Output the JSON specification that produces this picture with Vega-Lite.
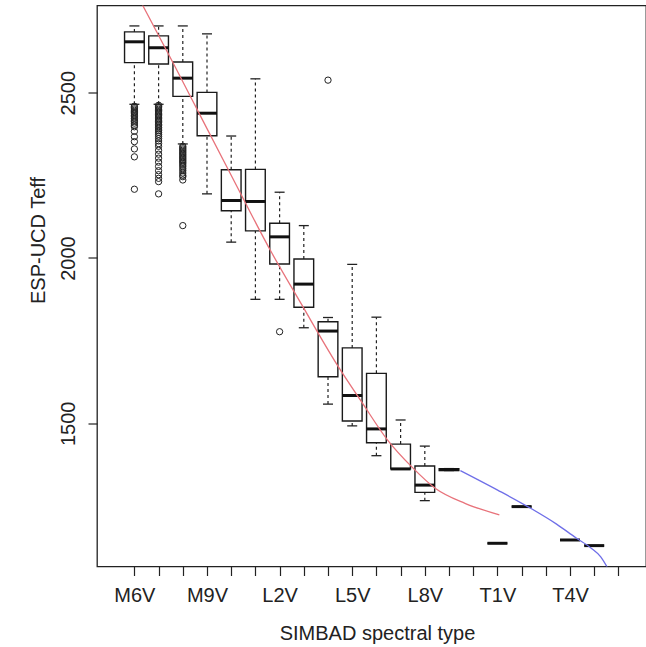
{
  "$schema": "https://vega.github.io/schema/vega-lite/v6.json",
  "width": 549,
  "height": 561,
  "autosize": {"type": "none"},
  "padding": {"left": 97, "top": 5.5, "right": 0, "bottom": 80.5},
  "background": "white",
  "config": {
    "view": {"stroke": "#222", "strokeWidth": 1.3},
    "font": "Liberation Sans",
    "axis": {
      "grid": false, "domain": false, "tickColor": "#222", "tickWidth": 1.2,
      "labelColor": "#222", "titleColor": "#222", "labelFontSize": 20, "titleFontSize": 20,
      "titleFontWeight": "normal", "labelFont": "Liberation Sans", "titleFont": "Liberation Sans",
      "tickSize": 9, "labelOverlap": false, "labelFlush": false
    },
    "axisX": {"labelPadding": 26, "labelBaseline": "alphabetic", "titleX": 280, "titleY": 72.5, "titleBaseline": "alphabetic", "titleAlign": "center", "titleAnchor": null},
    "axisY": {"labelAngle": -90, "labelAlign": "center", "labelBaseline": "alphabetic", "labelPadding": 13.5, "titleAngle": -90, "titleX": -53, "titleY": 234.5, "titleAlign": "center", "titleBaseline": "alphabetic", "format": "d"}
  },
  "datasets": {
    "boxes": [
      {"type": "M6V", "spt": 6, "lower": 2465, "q1": 2591, "median": 2654, "q3": 2684, "upper": 2702},
      {"type": "M7V", "spt": 7, "lower": 2465, "q1": 2587, "median": 2636, "q3": 2672, "upper": 2702},
      {"type": "M8V", "spt": 8, "lower": 2345, "q1": 2489, "median": 2544, "q3": 2593, "upper": 2702},
      {"type": "M9V", "spt": 9, "lower": 2194, "q1": 2370, "median": 2438, "q3": 2501, "upper": 2678},
      {"type": "L0V", "spt": 10, "lower": 2048, "q1": 2143, "median": 2174, "q3": 2267, "upper": 2369},
      {"type": "L1V", "spt": 11, "lower": 1875, "q1": 2082, "median": 2171, "q3": 2268, "upper": 2542},
      {"type": "L2V", "spt": 12, "lower": 1875, "q1": 1982, "median": 2064, "q3": 2105, "upper": 2199},
      {"type": "L3V", "spt": 13, "lower": 1789, "q1": 1851, "median": 1921, "q3": 1997, "upper": 2098},
      {"type": "L4V", "spt": 14, "lower": 1558, "q1": 1641, "median": 1779, "q3": 1807, "upper": 1820},
      {"type": "L5V", "spt": 15, "lower": 1492, "q1": 1507, "median": 1584, "q3": 1728, "upper": 1981},
      {"type": "L6V", "spt": 16, "lower": 1402, "q1": 1441, "median": 1483, "q3": 1651, "upper": 1821},
      {"type": "L7V", "spt": 17, "lower": 1362, "q1": 1362, "median": 1362, "q3": 1437, "upper": 1510},
      {"type": "L8V", "spt": 18, "lower": 1266, "q1": 1291, "median": 1313, "q3": 1371, "upper": 1431},
      {"type": "L9V", "spt": 19, "lower": 1357, "q1": 1357, "median": 1360, "q3": 1363, "upper": 1363},
      {"type": "T1V", "spt": 21, "lower": 1137, "q1": 1137, "median": 1137, "q3": 1137, "upper": 1137},
      {"type": "T2V", "spt": 22, "lower": 1248, "q1": 1248, "median": 1248, "q3": 1248, "upper": 1248},
      {"type": "T4V", "spt": 24, "lower": 1147, "q1": 1147, "median": 1147, "q3": 1147, "upper": 1147},
      {"type": "T5V", "spt": 25, "lower": 1130, "q1": 1130, "median": 1130, "q3": 1130, "upper": 1130}
    ],
    "outliers": [
      {"type": "M6V", "spt": 6, "teff": 2459}, {"type": "M6V", "spt": 6, "teff": 2455}, {"type": "M6V", "spt": 6, "teff": 2451},
      {"type": "M6V", "spt": 6, "teff": 2447}, {"type": "M6V", "spt": 6, "teff": 2443}, {"type": "M6V", "spt": 6, "teff": 2440},
      {"type": "M6V", "spt": 6, "teff": 2436}, {"type": "M6V", "spt": 6, "teff": 2431}, {"type": "M6V", "spt": 6, "teff": 2427},
      {"type": "M6V", "spt": 6, "teff": 2422}, {"type": "M6V", "spt": 6, "teff": 2417}, {"type": "M6V", "spt": 6, "teff": 2413},
      {"type": "M6V", "spt": 6, "teff": 2408}, {"type": "M6V", "spt": 6, "teff": 2402}, {"type": "M6V", "spt": 6, "teff": 2397},
      {"type": "M6V", "spt": 6, "teff": 2383}, {"type": "M6V", "spt": 6, "teff": 2367}, {"type": "M6V", "spt": 6, "teff": 2352},
      {"type": "M6V", "spt": 6, "teff": 2330}, {"type": "M6V", "spt": 6, "teff": 2306}, {"type": "M6V", "spt": 6, "teff": 2208},
      {"type": "M7V", "spt": 7, "teff": 2462}, {"type": "M7V", "spt": 7, "teff": 2458}, {"type": "M7V", "spt": 7, "teff": 2454},
      {"type": "M7V", "spt": 7, "teff": 2450}, {"type": "M7V", "spt": 7, "teff": 2446}, {"type": "M7V", "spt": 7, "teff": 2442},
      {"type": "M7V", "spt": 7, "teff": 2438}, {"type": "M7V", "spt": 7, "teff": 2434}, {"type": "M7V", "spt": 7, "teff": 2430},
      {"type": "M7V", "spt": 7, "teff": 2426}, {"type": "M7V", "spt": 7, "teff": 2421}, {"type": "M7V", "spt": 7, "teff": 2417},
      {"type": "M7V", "spt": 7, "teff": 2413}, {"type": "M7V", "spt": 7, "teff": 2409}, {"type": "M7V", "spt": 7, "teff": 2404},
      {"type": "M7V", "spt": 7, "teff": 2400}, {"type": "M7V", "spt": 7, "teff": 2395}, {"type": "M7V", "spt": 7, "teff": 2390},
      {"type": "M7V", "spt": 7, "teff": 2385}, {"type": "M7V", "spt": 7, "teff": 2380}, {"type": "M7V", "spt": 7, "teff": 2374},
      {"type": "M7V", "spt": 7, "teff": 2368}, {"type": "M7V", "spt": 7, "teff": 2361}, {"type": "M7V", "spt": 7, "teff": 2354},
      {"type": "M7V", "spt": 7, "teff": 2346}, {"type": "M7V", "spt": 7, "teff": 2338}, {"type": "M7V", "spt": 7, "teff": 2326},
      {"type": "M7V", "spt": 7, "teff": 2314}, {"type": "M7V", "spt": 7, "teff": 2302}, {"type": "M7V", "spt": 7, "teff": 2290},
      {"type": "M7V", "spt": 7, "teff": 2277}, {"type": "M7V", "spt": 7, "teff": 2264}, {"type": "M7V", "spt": 7, "teff": 2252},
      {"type": "M7V", "spt": 7, "teff": 2241}, {"type": "M7V", "spt": 7, "teff": 2231}, {"type": "M7V", "spt": 7, "teff": 2194},
      {"type": "M8V", "spt": 8, "teff": 2338}, {"type": "M8V", "spt": 8, "teff": 2334}, {"type": "M8V", "spt": 8, "teff": 2330},
      {"type": "M8V", "spt": 8, "teff": 2326}, {"type": "M8V", "spt": 8, "teff": 2322}, {"type": "M8V", "spt": 8, "teff": 2318},
      {"type": "M8V", "spt": 8, "teff": 2314}, {"type": "M8V", "spt": 8, "teff": 2310}, {"type": "M8V", "spt": 8, "teff": 2306},
      {"type": "M8V", "spt": 8, "teff": 2302}, {"type": "M8V", "spt": 8, "teff": 2298}, {"type": "M8V", "spt": 8, "teff": 2294},
      {"type": "M8V", "spt": 8, "teff": 2290}, {"type": "M8V", "spt": 8, "teff": 2286}, {"type": "M8V", "spt": 8, "teff": 2281},
      {"type": "M8V", "spt": 8, "teff": 2276}, {"type": "M8V", "spt": 8, "teff": 2270}, {"type": "M8V", "spt": 8, "teff": 2264},
      {"type": "M8V", "spt": 8, "teff": 2257}, {"type": "M8V", "spt": 8, "teff": 2250}, {"type": "M8V", "spt": 8, "teff": 2246},
      {"type": "M8V", "spt": 8, "teff": 2236}, {"type": "M8V", "spt": 8, "teff": 2098},
      {"type": "L2V", "spt": 12, "teff": 1777},
      {"type": "L4V", "spt": 14, "teff": 2538}
    ],
    "fits": [
      {"fit": "M-L", "spt": 6.337, "teff": 2765},
      {"fit": "M-L", "spt": 7.623, "teff": 2587},
      {"fit": "M-L", "spt": 8.84, "teff": 2414},
      {"fit": "M-L", "spt": 10.057, "teff": 2242},
      {"fit": "M-L", "spt": 11.68, "teff": 2015},
      {"fit": "M-L", "spt": 12.896, "teff": 1861},
      {"fit": "M-L", "spt": 14.385, "teff": 1676},
      {"fit": "M-L", "spt": 15.424, "teff": 1561},
      {"fit": "M-L", "spt": 16.454, "teff": 1450},
      {"fit": "M-L", "spt": 17.452, "teff": 1369},
      {"fit": "M-L", "spt": 18.442, "teff": 1303},
      {"fit": "M-L", "spt": 19.659, "teff": 1258},
      {"fit": "M-L", "spt": 21.08, "teff": 1223},
      {"fit": "L-T", "spt": 19.469, "teff": 1357},
      {"fit": "L-T", "spt": 21.01, "teff": 1298},
      {"fit": "L-T", "spt": 22.349, "teff": 1244},
      {"fit": "L-T", "spt": 23.444, "teff": 1195},
      {"fit": "L-T", "spt": 24.256, "teff": 1153},
      {"fit": "L-T", "spt": 24.864, "teff": 1123},
      {"fit": "L-T", "spt": 25.27, "teff": 1096},
      {"fit": "L-T", "spt": 25.55, "teff": 1063}
    ]
  },
  "encoding": {
    "x": {
      "field": "spt", "type": "quantitative",
      "scale": {"domain": [4.6613, 26.933], "nice": false, "zero": false},
      "axis": {
        "title": "SIMBAD spectral type",
        "values": [6, 7, 8, 9, 10, 11, 12, 13, 14, 15, 16, 17, 18, 19, 20, 21, 22, 23, 24, 25, 26],
        "labelExpr": "datum.value == 6 ? 'M6V' : datum.value == 9 ? 'M9V' : datum.value == 12 ? 'L2V' : datum.value == 15 ? 'L5V' : datum.value == 18 ? 'L8V' : datum.value == 21 ? 'T1V' : datum.value == 24 ? 'T4V' : ''"
      }
    }
  },
  "layer": [
    {
      "data": {"name": "boxes"},
      "mark": {"type": "rule", "strokeDash": [3, 3], "strokeWidth": 1.2, "color": "#222", "opacity": 1},
      "encoding": {
        "y": {"field": "lower", "type": "quantitative", "scale": {"domain": [1066.8, 2763.8], "nice": false, "zero": false}, "axis": {"title": "ESP-UCD Teff", "values": [1500, 2000, 2500], "format": "d"}},
        "y2": {"field": "q1"}
      }
    },
    {
      "data": {"name": "boxes"},
      "mark": {"type": "rule", "strokeDash": [3, 3], "strokeWidth": 1.2, "color": "#222", "opacity": 1},
      "encoding": {
        "y": {"field": "q3", "type": "quantitative", "axis": {"title": "ESP-UCD Teff", "values": [1500, 2000, 2500], "format": "d"}},
        "y2": {"field": "upper"}
      }
    },
    {
      "data": {"name": "boxes"},
      "mark": {"type": "tick", "orient": "horizontal", "size": 10, "thickness": 1.3, "color": "#222", "opacity": 1},
      "encoding": {"y": {"field": "upper", "type": "quantitative", "axis": {"title": "ESP-UCD Teff", "values": [1500, 2000, 2500], "format": "d"}}}
    },
    {
      "data": {"name": "boxes"},
      "mark": {"type": "tick", "orient": "horizontal", "size": 10, "thickness": 1.3, "color": "#222", "opacity": 1},
      "encoding": {"y": {"field": "lower", "type": "quantitative", "axis": {"title": "ESP-UCD Teff", "values": [1500, 2000, 2500], "format": "d"}}}
    },
    {
      "data": {"name": "boxes"},
      "mark": {"type": "bar", "width": 19.7, "fill": "white", "stroke": "#1a1a1a", "strokeWidth": 1.4, "opacity": 1},
      "encoding": {
        "y": {"field": "q1", "type": "quantitative", "axis": {"title": "ESP-UCD Teff", "values": [1500, 2000, 2500], "format": "d"}},
        "y2": {"field": "q3"}
      }
    },
    {
      "data": {"name": "boxes"},
      "mark": {"type": "tick", "orient": "horizontal", "size": 20, "thickness": 3, "color": "#111", "opacity": 1},
      "encoding": {"y": {"field": "median", "type": "quantitative", "axis": {"title": "ESP-UCD Teff", "values": [1500, 2000, 2500], "format": "d"}}}
    },
    {
      "data": {"name": "outliers"},
      "mark": {"type": "point", "shape": "circle", "filled": false, "size": 40, "stroke": "#222", "strokeWidth": 1, "opacity": 1},
      "encoding": {"y": {"field": "teff", "type": "quantitative", "axis": {"title": "ESP-UCD Teff", "values": [1500, 2000, 2500], "format": "d"}}}
    },
    {
      "data": {"name": "fits"},
      "mark": {"type": "line", "interpolate": "monotone", "strokeWidth": 1.3, "clip": true},
      "encoding": {
        "y": {"field": "teff", "type": "quantitative", "axis": {"title": "ESP-UCD Teff", "values": [1500, 2000, 2500], "format": "d"}},
        "color": {"field": "fit", "type": "nominal", "scale": {"domain": ["M-L", "L-T"], "range": ["#e8737b", "#6f6fe8"]}, "legend": null}
      }
    }
  ]
}
